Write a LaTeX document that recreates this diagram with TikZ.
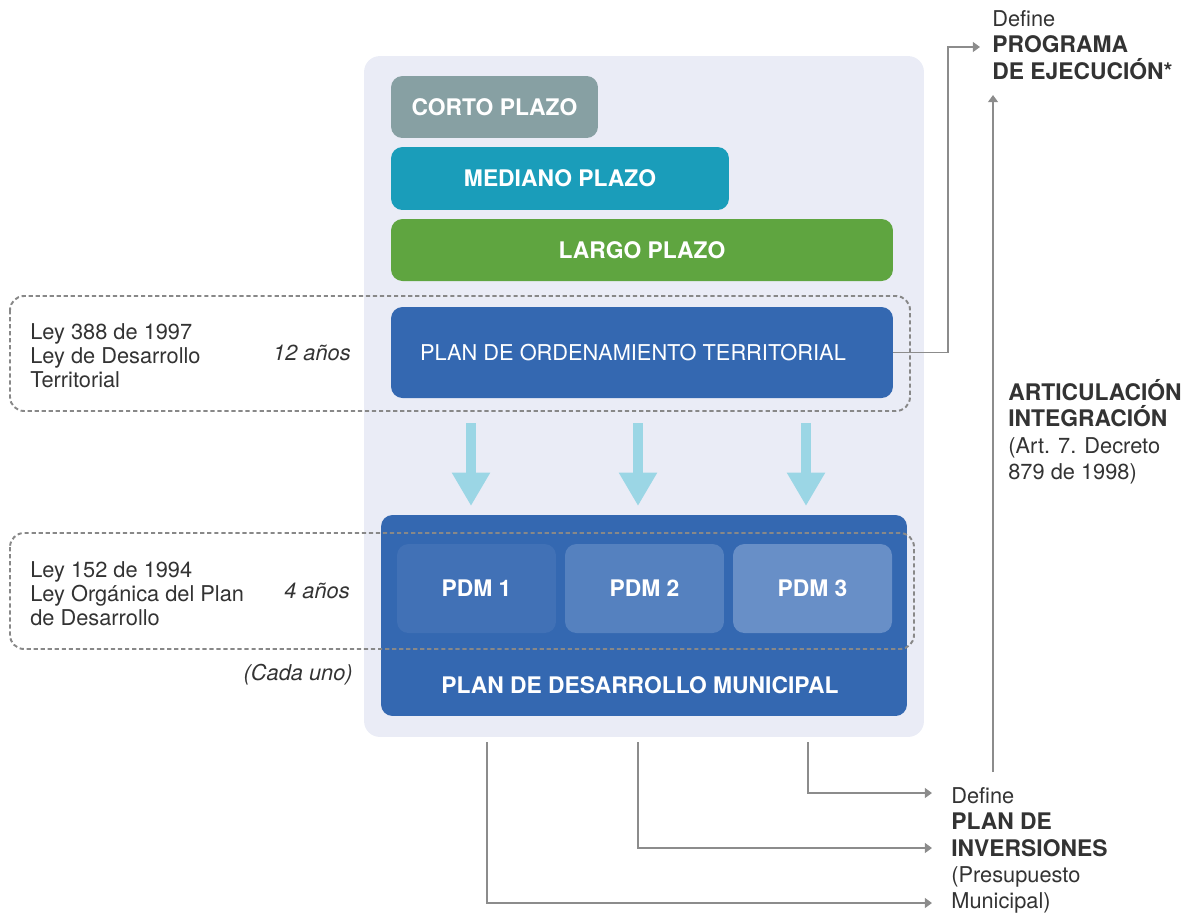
\documentclass[tikz,border=0pt]{standalone}
\usepackage{fontspec}
\setmainfont{TeX Gyre Heros}
\usetikzlibrary{arrows.meta}
\definecolor{panel}{HTML}{EAECF6}
\definecolor{corto}{HTML}{87A0A3}
\definecolor{mediano}{HTML}{1A9DBA}
\definecolor{largo}{HTML}{5FA540}
\definecolor{planblue}{HTML}{3468B1}
\definecolor{pdma}{HTML}{4171B6}
\definecolor{pdmb}{HTML}{5581BF}
\definecolor{pdmc}{HTML}{688FC7}
\definecolor{lightarrow}{HTML}{9BD6E5}
\definecolor{conngray}{HTML}{8C8C8C}
\definecolor{dashgray}{HTML}{888888}
\definecolor{txt}{HTML}{333333}
\newcommand\bftxt[1]{{\fontsize{13}{15}\selectfont\bfseries #1}}
\tikzset{
  box/.style={rounded corners=6.5pt, inner sep=0pt, text=white,
    font=\fontsize{13}{15}\selectfont\bfseries},
  dashbox/.style={draw=dashgray, line width=1.1pt, rounded corners=8pt,
    dash pattern=on 2.4pt off 1.6pt},
  conn/.style={draw=conngray, line width=1.1pt,
    -{Triangle[length=4pt,width=5.5pt]}},
  bigarrow/.style={draw=lightarrow, line width=5.6pt,
    -{Triangle[length=19pt,width=20.5pt]}, shorten >=0pt},
  lefttext/.style={anchor=north west, inner sep=0pt, align=left, text=txt,
    font=\fontsize{12.4}{13.6}\selectfont},
  yeartext/.style={anchor=east, inner sep=0pt, text=txt,
    font=\fontsize{12.4}{13.6}\selectfont\itshape},
  righttext/.style={anchor=north west, inner sep=0pt, align=left, text=txt,
    font=\fontsize{12.4}{15}\selectfont},
}
\begin{document}
\begin{tikzpicture}[x=0.02cm,y=-0.02cm]
\useasboundingbox (0,0) rectangle (1195,913);
% panel
\node[fill=panel, rounded corners=9pt, minimum width=11.2cm, minimum height=13.62cm, inner sep=0pt] (panel) at (644,396.5) {};
% term boxes
\node[box, fill=corto, minimum width=4.14cm, minimum height=1.24cm] (corto) at (494.5,107) {CORTO PLAZO};
\node[box, fill=mediano, minimum width=6.76cm, minimum height=1.26cm] (mediano) at (560,178.5) {MEDIANO PLAZO};
\node[box, fill=largo, minimum width=10.04cm, minimum height=1.24cm] (largo) at (642,250) {LARGO PLAZO};
\node[box, fill=planblue, minimum width=10.04cm, minimum height=1.82cm] (pot) at (642,352.5) {};
\node[inner sep=0pt, text=white, font=\fontsize{12.4}{15}\selectfont] (pottext) at (633,353) {PLAN DE ORDENAMIENTO TERRITORIAL};
% big arrows
\coordinate (a1s) at (471,423); \coordinate (a1e) at (471,506);
\coordinate (a2s) at (638,423); \coordinate (a2e) at (638,506);
\coordinate (a3s) at (806,423); \coordinate (a3e) at (806,506);
\draw[bigarrow] (a1s) -- (a1e);
\draw[bigarrow] (a2s) -- (a2e);
\draw[bigarrow] (a3s) -- (a3e);
% PDM
\node[box, fill=planblue, minimum width=10.52cm, minimum height=4.02cm] (pdm) at (644,615.5) {};
\node[inner sep=0pt, text=white, font=\fontsize{13}{15}\selectfont\bfseries] (pdmtext) at (640,685) {PLAN DE DESARROLLO MUNICIPAL};
\node[box, fill=pdma, minimum width=3.18cm, minimum height=1.78cm] (pdm1) at (476.5,588.5) {PDM 1};
\node[box, fill=pdmb, minimum width=3.18cm, minimum height=1.78cm] (pdm2) at (644.5,588.5) {PDM 2};
\node[box, fill=pdmc, minimum width=3.18cm, minimum height=1.78cm] (pdm3) at (812.5,588.5) {PDM 3};
% dashed groups
\draw[dashbox] (10,296) rectangle (910,411);
\draw[dashbox] (10,533) rectangle (914,649);
% left texts
\node[lefttext] (law1) at (30,323) {Ley 388 de 1997\\Ley de Desarrollo\\Territorial};
\node[lefttext] (law2) at (30,561) {Ley 152 de 1994\\Ley Orgánica del Plan\\de Desarrollo};
\node[yeartext] (yr1) at (351,353) {12 años};
\node[yeartext] (yr2) at (350,591) {4 años};
\node[yeartext] (cada) at (353,675) {(Cada uno)};
% right texts
\node[righttext] (prog) at (992,10) {Define\\\bftxt{PROGRAMA}\\\bftxt{DE EJECUCIÓN*}};
\node[righttext] (art) at (1008,379) {\bftxt{ARTICULACIÓN}\\\bftxt{INTEGRACIÓN}\\(Art. 7. Decreto\\879 de 1998)};
\node[righttext] (inv) at (951,787) {Define\\\bftxt{PLAN DE}\\\bftxt{INVERSIONES}\\(Presupuesto\\Municipal)};
% connectors
\coordinate (c1) at (948,47);
\coordinate (progtip) at (980,47);
\draw[conn] (pot.east) -| (c1) -- (progtip);
\coordinate (artb) at (993,772);
\coordinate (artt) at (993,95);
\draw[conn] (artb) -- (artt);
\coordinate (s1) at (487,742); \coordinate (t1) at (932,903);
\coordinate (s2) at (638,742); \coordinate (t2) at (932,848);
\coordinate (s3) at (808,742); \coordinate (t3) at (932,793);
\draw[conn] (s3) |- (t3);
\draw[conn] (s2) |- (t2);
\draw[conn] (s1) |- (t1);
\end{tikzpicture}
\end{document}
